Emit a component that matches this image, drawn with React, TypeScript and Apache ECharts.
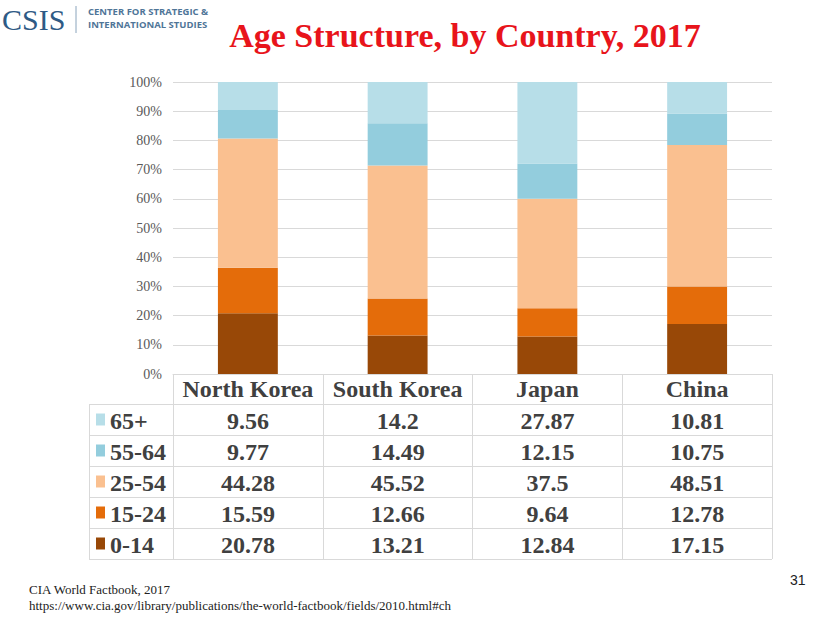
import React, { useEffect, useRef } from "react";
import * as echarts from "echarts";

const categories = ["North Korea", "South Korea", "Japan", "China"];
const ageGroups = ["65+", "55-64", "25-54", "15-24", "0-14"];
const age65plus = [9.56, 14.2, 27.87, 10.81];
const age55to64 = [9.77, 14.49, 12.15, 10.75];
const age25to54 = [44.28, 45.52, 37.5, 48.51];
const age15to24 = [15.59, 12.66, 9.64, 12.78];
const age0to14 = [20.78, 13.21, 12.84, 17.15];
const yTicks = [0, 10, 20, 30, 40, 50, 60, 70, 80, 90, 100];

const rowValues = [age65plus, age55to64, age25to54, age15to24, age0to14];
const groupColors = ["#b7dee8", "#93cddd", "#fac090", "#e46c0a", "#984807"];

const SERIF = "'Liberation Serif', 'Times New Roman', serif";

export default function App() {
  const ref = useRef<HTMLDivElement>(null);
  useEffect(() => {
    document.body.style.margin = "0";
    const chart = echarts.init(ref.current!, null, { renderer: "svg" });

    const gridLeft = 173;
    const gridRight = 48;
    const colW = (820 - gridLeft - gridRight) / categories.length;
    const tableTop = 374;
    const headerH = 30;
    const rowH = 31;
    const tableLeft = 89;
    const tableRight = 820 - gridRight;

    const graphics: any[] = [];
    // title
    graphics.push({
      type: "text",
      x: 465,
      y: 35,
      style: {
        text: "Age Structure, by Country, 2017",
        font: `bold 34px ${SERIF}`,
        fill: "#e8141b",
        align: "center",
        verticalAlign: "middle",
      },
    });
    // logo
    graphics.push({
      type: "text",
      x: 2,
      y: 19,
      style: {
        text: "CSIS",
        font: `30px ${SERIF}`,
        fill: "#2e5a85",
        align: "left",
        verticalAlign: "middle",
      },
    });
    graphics.push({
      type: "line",
      shape: { x1: 76, y1: 6, x2: 76, y2: 33 },
      style: { stroke: "#8aa4bc", lineWidth: 1 },
    });
    graphics.push({
      type: "text",
      left: 88,
      top: 6,
      style: {
        text: "CENTER FOR STRATEGIC &",
        font: `bold 9.5px 'Open Sans', sans-serif`,
        fill: "#4f7598",
      },
    });
    graphics.push({
      type: "text",
      left: 88,
      top: 19,
      style: {
        text: "INTERNATIONAL STUDIES",
        font: `bold 9.5px 'Open Sans', sans-serif`,
        fill: "#4f7598",
      },
    });
    // table horizontal lines
    for (let i = 0; i <= ageGroups.length; i++) {
      const y = tableTop + headerH + i * rowH + 0.5;
      graphics.push({
        type: "line",
        shape: { x1: tableLeft, y1: y, x2: tableRight, y2: y },
        style: { stroke: "#d9d9d9", lineWidth: 1 },
      });
    }
    graphics.push({
      type: "line",
      shape: {
        x1: tableLeft + 0.5,
        y1: tableTop + headerH,
        x2: tableLeft + 0.5,
        y2: tableTop + headerH + ageGroups.length * rowH,
      },
      style: { stroke: "#d9d9d9", lineWidth: 1 },
    });
    // rows
    ageGroups.forEach((g, r) => {
      const cy = tableTop + headerH + r * rowH + rowH / 2;
      graphics.push({
        type: "rect",
        shape: { x: 96, y: cy - 6, width: 9, height: 12 },
        style: { fill: groupColors[r] },
      });
      graphics.push({
        type: "text",
        x: 110,
        y: cy + 1,
        style: {
          text: g,
          font: `bold 24px ${SERIF}`,
          fill: "#404040",
          align: "left",
          verticalAlign: "middle",
        },
      });
      rowValues[r].forEach((v, c) => {
        graphics.push({
          type: "text",
          x: gridLeft + colW * (c + 0.5),
          y: cy + 1,
          style: {
            text: String(v),
            font: `bold 24px ${SERIF}`,
            fill: "#404040",
            align: "center",
            verticalAlign: "middle",
          },
        });
      });
    });
    // footer
    graphics.push({
      type: "text",
      x: 29,
      y: 589,
      style: {
        text: "CIA World Factbook, 2017",
        font: `13px ${SERIF}`,
        fill: "#222",
        align: "left",
        verticalAlign: "middle",
      },
    });
    graphics.push({
      type: "text",
      x: 29,
      y: 605,
      style: {
        text: "https://www.cia.gov/library/publications/the-world-factbook/fields/2010.html#ch",
        font: `13px ${SERIF}`,
        fill: "#222",
        align: "left",
        verticalAlign: "middle",
      },
    });
    graphics.push({
      type: "text",
      x: 790,
      y: 580,
      style: {
        text: "31",
        font: `14px 'Liberation Sans', Arial, sans-serif`,
        fill: "#222",
        align: "left",
        verticalAlign: "middle",
      },
    });

    const seriesDefs = [
      { name: "0-14", data: age0to14, color: groupColors[4] },
      { name: "15-24", data: age15to24, color: groupColors[3] },
      { name: "25-54", data: age25to54, color: groupColors[2] },
      { name: "55-64", data: age55to64, color: groupColors[1] },
      { name: "65+", data: age65plus, color: groupColors[0] },
    ];

    chart.setOption({
      animation: false,
      backgroundColor: "#ffffff",
      grid: { left: gridLeft, right: gridRight, top: 82, bottom: 619 - tableTop, containLabel: false },
      xAxis: {
        type: "category",
        data: categories,
        axisLine: { show: true, lineStyle: { color: "#d9d9d9", width: 1 } },
        axisTick: {
          show: true,
          length: headerH + ageGroups.length * rowH,
          lineStyle: { color: "#d9d9d9", width: 1 },
        },
        axisLabel: {
          interval: 0,
          hideOverlap: false,
          margin: 3,
          fontFamily: SERIF,
          fontWeight: "bold",
          fontSize: 24,
          color: "#404040",
        },
      },
      yAxis: {
        type: "value",
        min: yTicks[0],
        max: yTicks[yTicks.length - 1],
        interval: yTicks[1] - yTicks[0],
        axisLine: { show: false },
        axisTick: { show: false },
        splitLine: { lineStyle: { color: "#d9d9d9", width: 1 } },
        axisLabel: {
          formatter: "{value}%",
          fontFamily: SERIF,
          fontSize: 14,
          color: "#595959",
          margin: 11,
        },
      },
      series: seriesDefs.map((s) => ({
        type: "bar",
        name: s.name,
        stack: "total",
        data: s.data,
        barWidth: "40%",
        itemStyle: { color: s.color },
      })),
      graphic: graphics,
    });
    return () => chart.dispose();
  }, []);
  return <div ref={ref} style={{ width: 820, height: 619 }} />;
}
